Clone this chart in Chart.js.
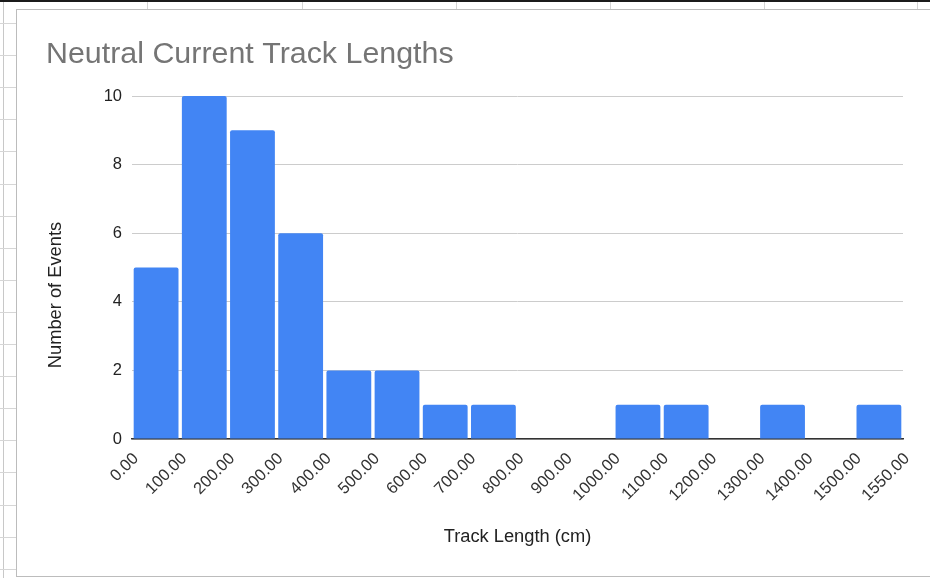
<!DOCTYPE html>
<html>
<head>
<meta charset="utf-8">
<title>Neutral Current Track Lengths</title>
<script src="https://cdn.jsdelivr.net/npm/chart.js@4/dist/chart.umd.min.js"></script>
<style>
  html, body { margin: 0; padding: 0; background: #ffffff; }
  body { width: 930px; height: 578px; position: relative; overflow: hidden; }
  .topbar { position: absolute; left: 0; top: 0; width: 930px; height: 2px; background: #1b1b1b; }
  .col { position: absolute; top: 2px; width: 1px; height: 7px; background: #d4d4d4; }
  .rowstrip { position: absolute; left: 3px; top: 2px; width: 1px; height: 576px; background: #c8c8c8; }
  .row { position: absolute; left: 0; width: 16px; height: 1px; background: #d6d6d6; }
  .card { position: absolute; left: 16px; top: 9px; width: 930px; height: 566px;
          border-left: 1px solid #bcbcbc; border-top: 1px solid #bcbcbc; border-bottom: 1px solid #bcbcbc;
          background: #ffffff; }
  #chart { position: absolute; left: 0; top: 0; }
</style>
</head>
<body>
<div class="topbar"></div>
<div class="col" style="left:147px"></div>
<div class="col" style="left:302px"></div>
<div class="col" style="left:456px"></div>
<div class="col" style="left:610px"></div>
<div class="col" style="left:764px"></div>
<div class="col" style="left:917px"></div>
<div class="rowstrip"></div>
<div id="rows"></div>
<div class="card"></div>
<canvas id="chart" width="930" height="578"></canvas>
<script>
// Histogram of neutral current track lengths (cm)
const binEdges = [0, 100, 200, 300, 400, 500, 600, 700, 800, 900, 1000, 1100, 1200, 1300, 1400, 1500, 1550];
const eventCounts = [5, 10, 9, 6, 2, 2, 1, 1, 0, 0, 1, 1, 0, 1, 0, 1];
const yTicks = [0, 2, 4, 6, 8, 10];

const chartTitle = 'Neutral Current Track Lengths';
const xTitle = 'Track Length (cm)';
const yTitle = 'Number of Events';

// spreadsheet row lines to the left of the chart card
const rowsHost = document.getElementById('rows');
for (let y = 23; y < 578; y += 32.1) {
  const d = document.createElement('div');
  d.className = 'row';
  d.style.top = Math.round(y) + 'px';
  rowsHost.appendChild(d);
}

const FONT = '"Liberation Sans", Arial, sans-serif';

// each bin is centred between its two edges on a linear index axis
const binPoints = eventCounts.map((c, i) => ({ x: i + 0.5, y: c }));

const headerText = {
  id: 'headerText',
  afterDraw(chart) {
    const ctx = chart.ctx;
    ctx.save();
    ctx.fillStyle = '#757575';
    ctx.font = '30.4px ' + FONT;
    ctx.textAlign = 'left';
    ctx.textBaseline = 'alphabetic';
    ctx.fillText(chartTitle, 46, 63);

    ctx.fillStyle = '#222222';
    ctx.font = '18.3px ' + FONT;
    ctx.translate(56, 295);
    ctx.rotate(-Math.PI / 2);
    ctx.textAlign = 'center';
    ctx.textBaseline = 'middle';
    ctx.fillText(yTitle, 0, 0);
    ctx.restore();
  }
};

new Chart(document.getElementById('chart'), {
  type: 'bar',
  data: {
    datasets: [{
      data: binPoints,
      backgroundColor: '#4285F4',
      borderWidth: 0,
      borderRadius: 2,
      borderSkipped: 'start',
      barPercentage: 0.93,
      categoryPercentage: 1.0
    }]
  },
  options: {
    responsive: false,
    animation: false,
    layout: { padding: { top: 96, right: 27, left: 0, bottom: 0 } },
    plugins: {
      legend: { display: false },
      title: { display: false },
      tooltip: { enabled: false }
    },
    scales: {
      x: {
        type: 'linear',
        min: 0,
        max: binEdges.length - 1,
        offset: false,
        afterFit(scale) { scale.height = 139; },
        afterBuildTicks(scale) {
          scale.ticks = binEdges.map((e, i) => ({ value: i }));
        },
        ticks: {
          autoSkip: false,
          minRotation: 45,
          maxRotation: 45,
          padding: 10,
          labelOffset: 4,
          color: '#333333',
          font: { family: FONT, size: 16.5 },
          callback: (v) => binEdges[v] !== undefined ? binEdges[v].toFixed(2) : ''
        },
        grid: { display: false, offset: false, drawTicks: false },
        border: { display: true, color: '#333333', width: 1.5 },
        title: {
          display: true,
          text: xTitle,
          color: '#222222',
          font: { family: FONT, size: 18.3 },
          padding: { top: 0, bottom: 30 }
        }
      },
      y: {
        min: 0,
        max: 10,
        afterFit(scale) { scale.width = 132; },
        afterBuildTicks(scale) {
          scale.ticks = yTicks.map(v => ({ value: v }));
        },
        ticks: {
          padding: 10,
          color: '#222222',
          font: { family: FONT, size: 16.5 }
        },
        grid: { color: '#cccccc', lineWidth: 1, drawTicks: false },
        border: { display: false }
      }
    }
  },
  plugins: [headerText]
});
</script>
</body>
</html>
